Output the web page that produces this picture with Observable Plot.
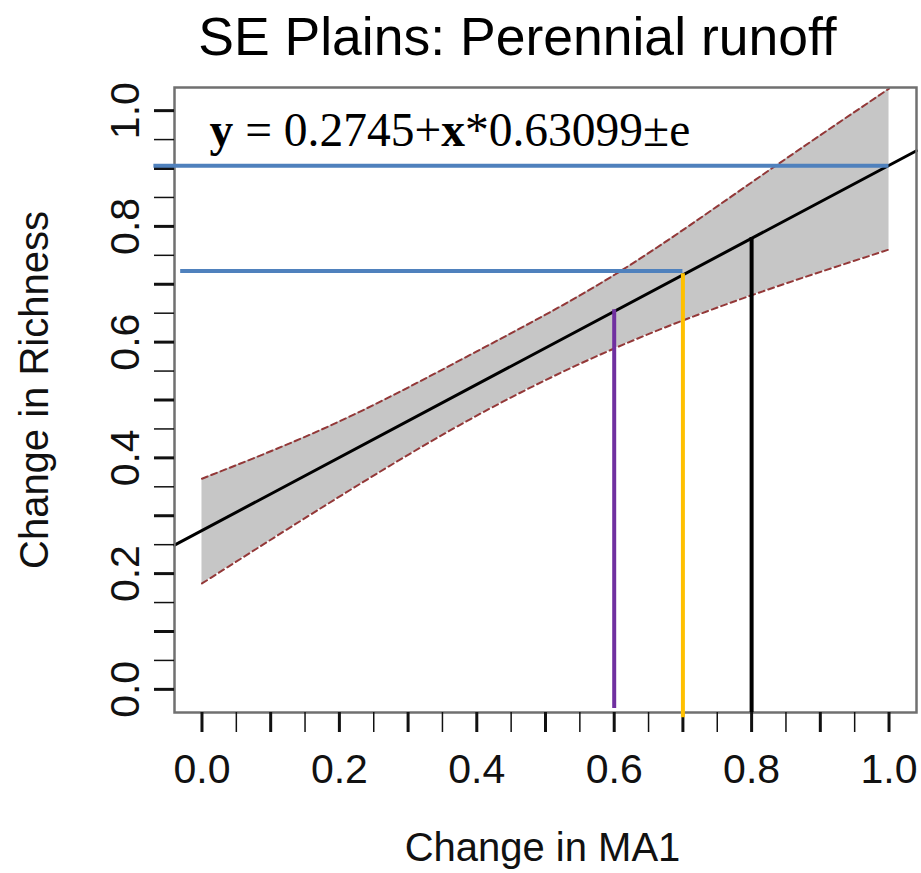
<!DOCTYPE html>
<html><head><meta charset="utf-8">
<script src="https://cdn.jsdelivr.net/npm/d3@7"></script>
<script src="https://cdn.jsdelivr.net/npm/@observablehq/plot@0.6"></script>
<style>body{margin:0;background:#fff}</style>
</head><body><div id="chart"></div>
<script>
// ---- data ----
const title = "SE Plains: Perennial runoff";
const xLabel = "Change in MA1";
const yLabel = "Change in Richness";
const formula = "y = 0.2745+x*0.63099±e";
const intercept = 0.2745;
const slope = 0.63099;
const fitX = [-0.04, 1.04];

const bandX     = [0.0,   0.2,   0.4,   0.6,   0.8,   1.0];
const bandUpper = [0.364, 0.463, 0.584, 0.716, 0.876, 1.038];
const bandLower = [0.183, 0.333, 0.473, 0.589, 0.681, 0.760];

const hLineY  = [0.905, 0.723];
const hLineX1 = [-0.07, -0.031];
const hLineX2 = [1.0, 0.70];

const vLineX     = [0.6, 0.7, 0.8];
const vLineY1    = [-0.033, -0.049, -0.04];
const vLineY2    = [0.656, 0.718, 0.781];
const vLineColor = ["#7030a0", "#ffc000", "#000000"];

const ticksMajor = [0, 0.1, 0.2, 0.3, 0.4, 0.5, 0.6, 0.7, 0.8, 0.9, 1.0];
const ticksMinor = [0.05, 0.15, 0.25, 0.35, 0.45, 0.55, 0.65, 0.75, 0.85, 0.95];
const tickLabels = [0, 0.2, 0.4, 0.6, 0.8, 1.0];

// ---- tables built from the arrays ----
const band = bandX.map((x, i) => ({x, lo: bandLower[i], hi: bandUpper[i]}));
const fit = fitX.map(x => ({x, y: intercept + slope * x}));
const hLines = hLineY.map((y, i) => ({y, x1: hLineX1[i], x2: hLineX2[i]}));
const vLines = vLineX.map((x, i) => ({x, y1: vLineY1[i], y2: vLineY2[i], c: vLineColor[i]}));

const sans = "Liberation Sans, Arial, sans-serif";
const serif = "Liberation Serif, Times New Roman, serif";

const chart = Plot.plot({
  width: 921, height: 873,
  marginLeft: 174, marginRight: 5, marginTop: 87, marginBottom: 161,
  style: {background: "#fff", fontFamily: sans, color: "#111"},
  x: {domain: [-0.04, 1.04], label: null, axis: null},
  y: {domain: [-0.04, 1.04], label: null, axis: null},
  marks: [
    Plot.areaY(band, {x: "x", y1: "lo", y2: "hi", fill: "#c6c6c6", curve: "natural"}),
    Plot.line(band, {x: "x", y: "hi", stroke: "#933838", strokeWidth: 2, strokeDasharray: "6,4", curve: "natural"}),
    Plot.line(band, {x: "x", y: "lo", stroke: "#933838", strokeWidth: 2, strokeDasharray: "6,4", curve: "natural"}),
    Plot.line(fit, {x: "x", y: "y", stroke: "#000", strokeWidth: 3}),
    Plot.frame({stroke: "#707070", strokeWidth: 2.5}),
    // axes ticks
    Plot.axisX(ticksMinor, {tickSize: 20, strokeWidth: 1.5, tickFormat: () => "", label: null}),
    Plot.axisX(ticksMajor, {tickSize: 20, strokeWidth: 3, tickFormat: () => "", label: null}),
    Plot.axisX(tickLabels, {tickSize: 0, tickPadding: 41, fontSize: 41, tickFormat: d3.format(".1f"), label: null, fill: "#111"}),
    Plot.axisY(ticksMinor, {tickSize: 20, strokeWidth: 1.5, tickFormat: () => "", label: null}),
    Plot.axisY(ticksMajor, {tickSize: 20, strokeWidth: 3, tickFormat: () => "", label: null}),
    Plot.text(tickLabels, {y: d => d, text: d => d3.format(".1f")(d), frameAnchor: "left", dx: -36,
      rotate: -90, textAnchor: "middle", lineAnchor: "bottom", fontSize: 41, fill: "#111"}),
    // overlays
    Plot.ruleY(hLines, {y: "y", x1: "x1", x2: "x2", stroke: "#4f81bd", strokeWidth: 4}),
    Plot.ruleX(vLines, {x: "x", y1: "y1", y2: "y2", stroke: "c", strokeWidth: 4}),
    // texts
    Plot.text([formula], {text: d => d, frameAnchor: "top-left", dx: 35, dy: 58, textAnchor: "start",
      lineAnchor: "bottom", fontSize: 47.5, fontFamily: serif, fill: "#000"}),
    Plot.text([title], {text: d => d, frameAnchor: "top", dx: -28, dy: -33, lineAnchor: "bottom",
      fontSize: 53.5, fill: "#000"}),
    Plot.text([xLabel], {text: d => d, frameAnchor: "bottom", dx: -3, dy: 148, lineAnchor: "bottom",
      fontSize: 40, fill: "#111"}),
    Plot.text([yLabel], {text: d => d, frameAnchor: "left", dx: -127, dy: -10, rotate: -90,
      textAnchor: "middle", lineAnchor: "bottom", fontSize: 40, fill: "#111"})
  ]
});

// bold the y and x of the formula
d3.select(chart).selectAll("text").filter(function () { return this.textContent === formula; })
  .each(function () {
    const t = d3.select(this);
    t.text(null);
    const parts = [["y", true], [" = 0.2745+", false], ["x", true], ["*0.63099±e", false]];
    for (const [s, b] of parts) t.append("tspan").attr("font-weight", b ? "bold" : null).text(s);
  });

document.getElementById("chart").appendChild(chart);
</script>
</body></html>
